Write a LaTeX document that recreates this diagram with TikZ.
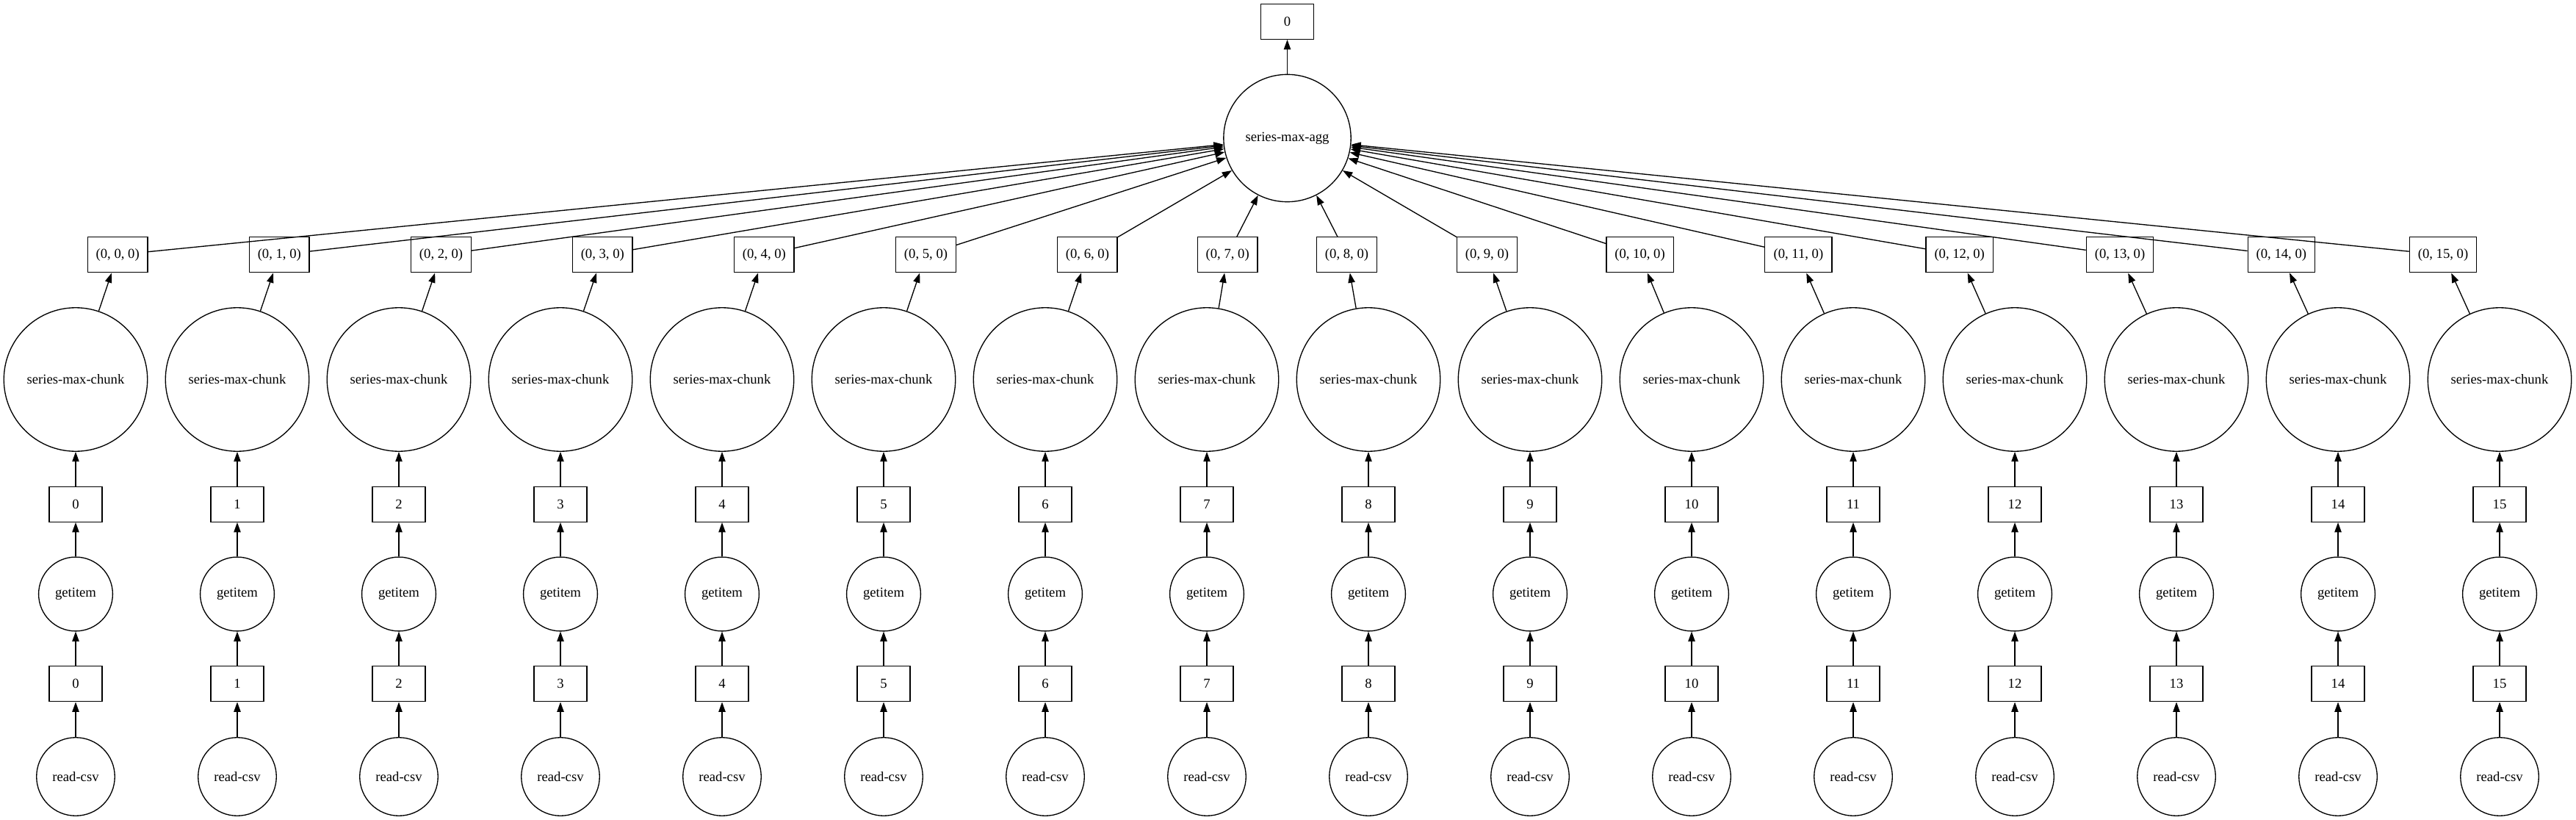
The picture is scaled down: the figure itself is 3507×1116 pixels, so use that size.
\documentclass[tikz,border=0pt]{standalone}
\usepackage{fontspec}
\setmainfont{Liberation Serif}
\usetikzlibrary{arrows.meta}
\begin{document}
\begin{tikzpicture}[x=0.75pt,y=-0.75pt,
  every node/.style={font=\fontsize{14}{16}\selectfont},
  sq/.style={draw, line width=1pt, rectangle, minimum height=36pt, minimum width=54pt, inner sep=0pt},
  rnd/.style={draw, line width=1pt, circle, inner sep=0pt},
  edge/.style={draw, line width=1pt, -{Triangle[length=10pt,width=7pt]}}
]
\useasboundingbox (0,0) rectangle (3507,1116);
\node[sq] (out) at (1752.5,29.3) {0};
\node[rnd, minimum size=130pt] (agg) at (1752.5,188) {series-max-agg};
\draw[edge] (agg) -- (out);
\foreach \i/\bx/\bw in {0/160.2/61.1, 1/380.3/61.1, 2/600.5/61.1, 3/820.3/61.1,
  4/1040.4/61.1, 5/1260.5/61.1, 6/1480.4/61.1, 7/1671.2/61.1, 8/1833.5/61.1,
  9/2024.5/61.1, 10/2232.5/68.5, 11/2448.4/68.5, 12/2667.7/68.5, 13/2886/68.5,
  14/3105.8/68.5, 15/3326/68.5} {
  \pgfmathsetmacro\cx{103+220*\i}
  \node[sq, minimum width=\bw pt] (key\i) at (\bx,346.8) {(0, \i, 0)};
  \node[rnd, minimum size=146.6pt] (chunk\i) at (\cx,516.5) {series-max-chunk};
  \node[sq] (gk\i) at (\cx,686.3) {\i};
  \node[rnd, minimum size=75.6pt] (get\i) at (\cx,808.5) {getitem};
  \node[sq] (rk\i) at (\cx,930.8) {\i};
  \node[rnd, minimum size=79.9pt] (read\i) at (\cx,1057) {read-csv};
  \draw[edge] (read\i) -- (rk\i);
  \draw[edge] (rk\i) -- (get\i);
  \draw[edge] (get\i) -- (gk\i);
  \draw[edge] (gk\i) -- (chunk\i);
  \draw[edge] (chunk\i) -- (key\i);
  \draw[edge] (key\i) -- (agg);
}
\end{tikzpicture}
\end{document}
